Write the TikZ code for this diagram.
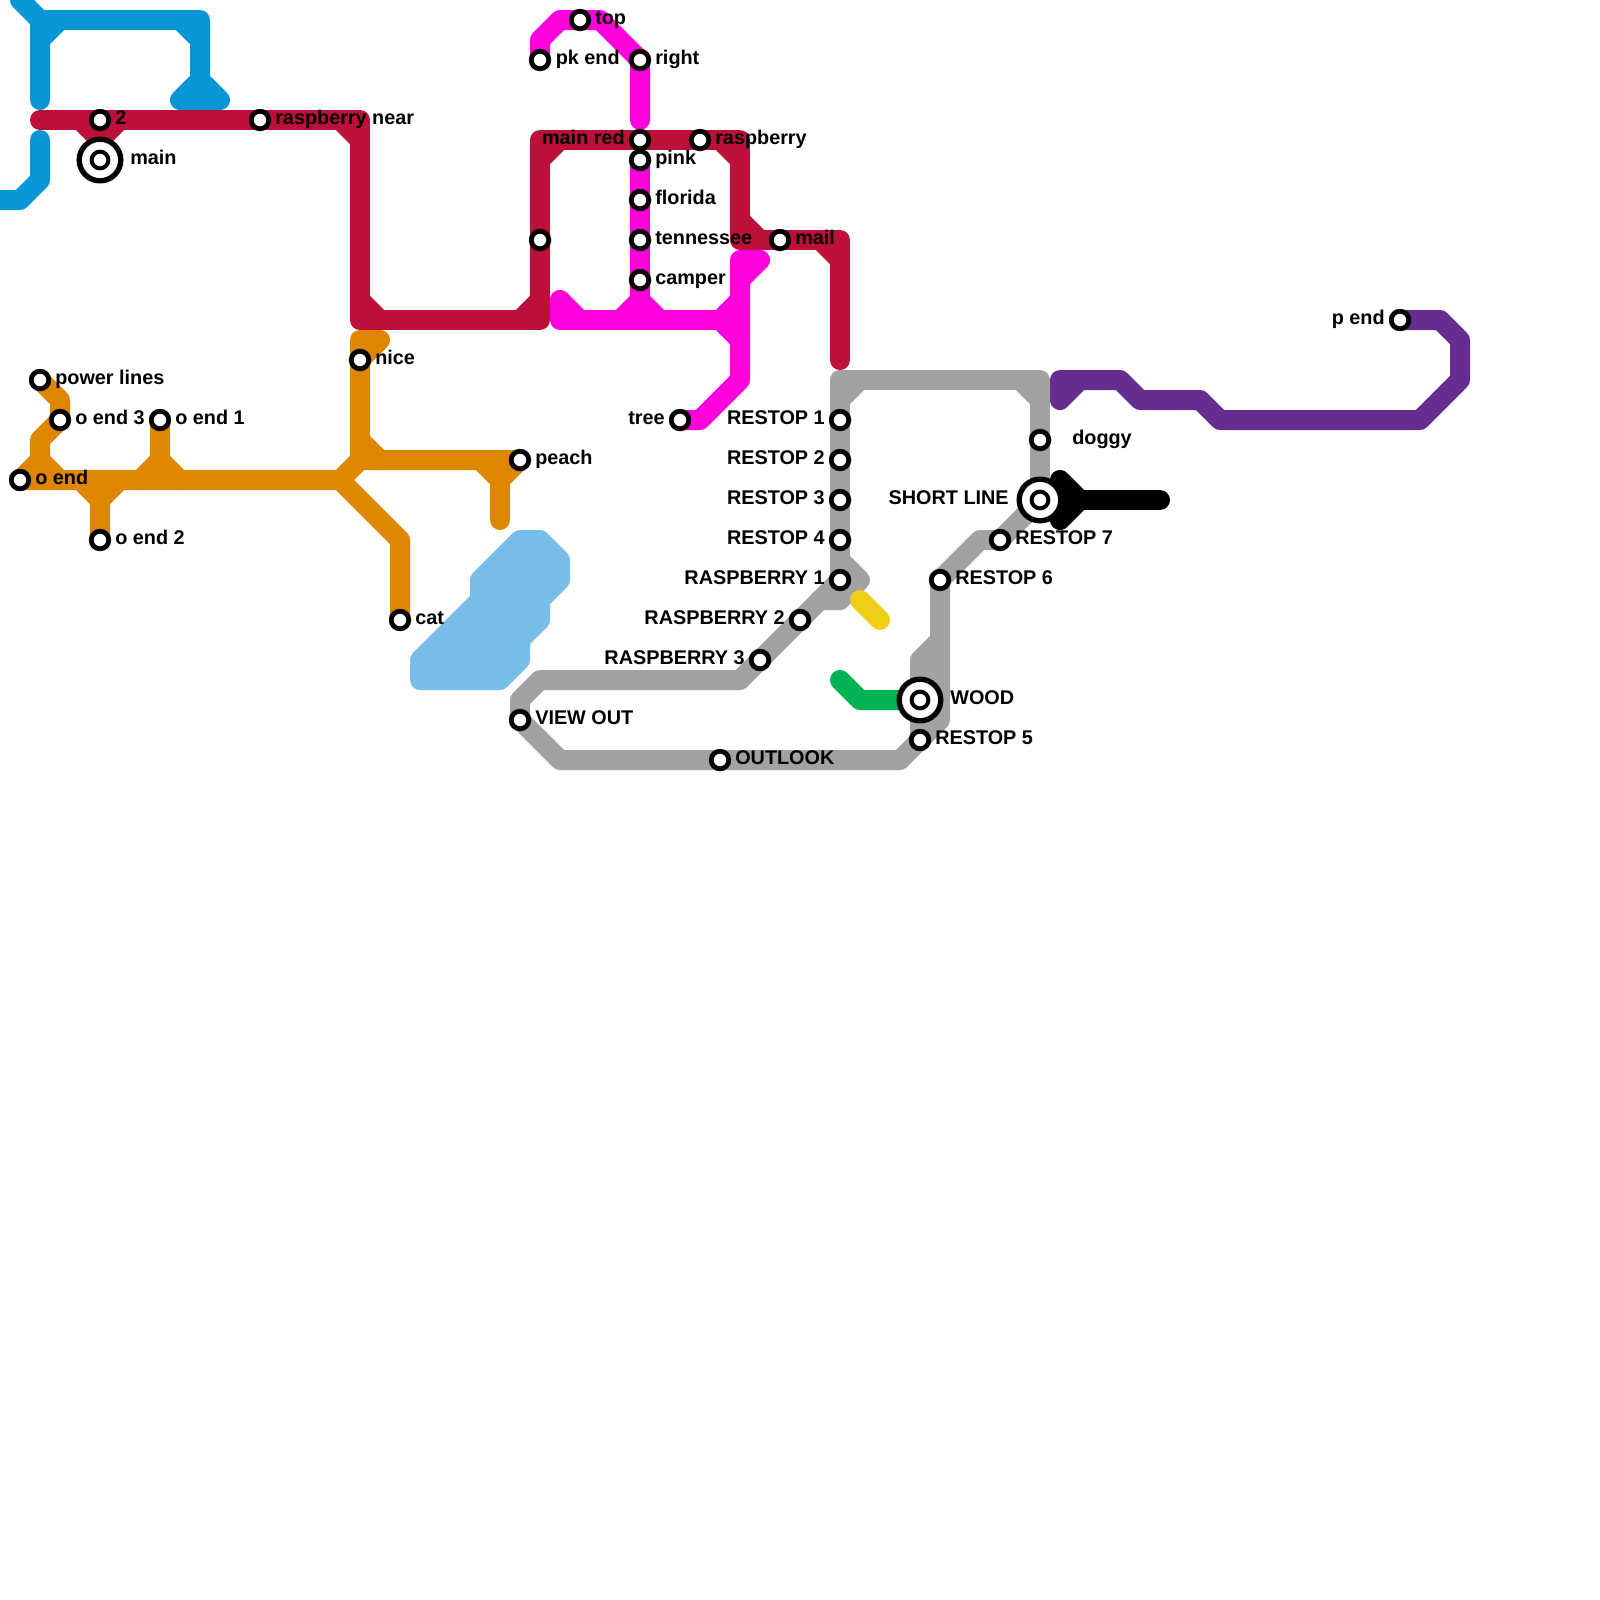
\documentclass[tikz,border=0pt]{standalone}
\usepackage{fontspec}
\setmainfont{Liberation Sans}
\usetikzlibrary{backgrounds}
\definecolor{mapblue}{HTML}{0896D7}
\definecolor{mapred}{HTML}{BD1038}
\definecolor{maporange}{HTML}{DF8600}
\definecolor{mappink}{HTML}{FF00DD}
\definecolor{mapgrey}{HTML}{A2A2A2}
\definecolor{maplake}{HTML}{79BDE9}
\definecolor{mapgreen}{HTML}{00B251}
\definecolor{mapyellow}{HTML}{F0CE15}
\definecolor{mappurple}{HTML}{662C90}
\begin{document}
\begin{tikzpicture}[
  x=0.5cm, y=-0.5cm,
  rail/.style={line width=0.5cm, line cap=round, line join=round},
  stop/.style={circle, draw=black, fill=white, line width=0.12cm, minimum size=0.44cm, inner sep=0pt},
  hub/.style={circle, draw=black, fill=white, line width=0.133cm, minimum size=1.04cm, inner sep=0pt},
  hubin/.style={circle, draw=black, fill=white, line width=0.1cm, minimum size=0.42cm, inner sep=0pt},
  lblr/.style={anchor=base west, inner sep=0pt, font=\fontsize{14.1}{16}\selectfont\bfseries},
  lbll/.style={anchor=base east, inner sep=0pt, font=\fontsize{14.1}{16}\selectfont\bfseries}
]
  \useasboundingbox (0,0) rectangle (80,80);

  % stations
  \node[stop] (two) at (5,6) {};
  \node[hub] (main) at (5,8) {};
  \node[hubin] (mainin) at (5,8) {};
  \node[stop] (rasnear) at (13,6) {};
  \node[stop] (powerlines) at (2,19) {};
  \node[stop] (oend3) at (3,21) {};
  \node[stop] (oend1) at (8,21) {};
  \node[stop] (oend) at (1,24) {};
  \node[stop] (oend2) at (5,27) {};
  \node[stop] (nice) at (18,18) {};
  \node[stop] (peach) at (26,23) {};
  \node[stop] (cat) at (20,31) {};
  \node[stop] (pkend) at (27,3) {};
  \node[stop] (top) at (29,1) {};
  \node[stop] (right) at (32,3) {};
  \node[stop] (mainred) at (32,7) {};
  \node[stop] (pink) at (32,8) {};
  \node[stop] (florida) at (32,10) {};
  \node[stop] (tennessee) at (32,12) {};
  \node[stop] (camper) at (32,14) {};
  \node[stop] (raspberry) at (35,7) {};
  \node[stop] (redmid) at (27,12) {};
  \node[stop] (mail) at (39,12) {};
  \node[stop] (tree) at (34,21) {};
  \node[stop] (restop1) at (42,21) {};
  \node[stop] (restop2) at (42,23) {};
  \node[stop] (restop3) at (42,25) {};
  \node[stop] (restop4) at (42,27) {};
  \node[stop] (rasp1) at (42,29) {};
  \node[stop] (rasp2) at (40,31) {};
  \node[stop] (rasp3) at (38,33) {};
  \node[stop] (viewout) at (26,36) {};
  \node[stop] (outlook) at (36,38) {};
  \node[stop] (restop5) at (46,37) {};
  \node[hub] (wood) at (46,35) {};
  \node[hubin] (woodin) at (46,35) {};
  \node[stop] (restop6) at (47,29) {};
  \node[stop] (restop7) at (50,27) {};
  \node[hub] (shortline) at (52,25) {};
  \node[hubin] (shortlinein) at (52,25) {};
  \node[stop] (doggy) at (52,22) {};
  \node[stop] (pend) at (70,16) {};

  % lines
  \begin{scope}[on background layer]
    \draw[rail, maplake, fill=maplake] (26,27) -- (27,27) -- (28,28) -- (28,29) -- (27,30) -- (27,31) -- (26,32) -- (26,33) -- (25,34) -- (21,34) -- (21,33) -- (24,30) -- (24,29) -- cycle;

    \draw[rail, mapblue] (1,0) -- (2,1) -- (2,5);
    \draw[rail, mapblue] (2,2) -- (3,1) -- (10,1) -- (10,4) -- (11,5) -- (9,5) -- (10,4);
    \draw[rail, mapblue] (2,1) -- (3,1);
    \draw[rail, mapblue] (9,1) -- (10,2);
    \draw[rail, mapblue] (2,7) -- (2,9) -- (1,10) -- (-1,10);

    \draw[rail, maporange] (powerlines.center) -- (3,20) -- (oend3.center) -- (2,22) -- (2,23) -- (3,24);
    \draw[rail, maporange] (oend.center) -- (2,23);
    \draw[rail, maporange] (oend.center) -- (17,24) -- (18,23) -- (peach.center);
    \draw[rail, maporange] (4,24) -- (5,25) -- (6,24);
    \draw[rail, maporange] (5,24) -- (oend2.center);
    \draw[rail, maporange] (7,24) -- (8,23) -- (9,24);
    \draw[rail, maporange] (oend1.center) -- (8,24);
    \draw[rail, maporange] (nice.center) -- (18,23);
    \draw[rail, maporange] (18,22) -- (19,23);
    \draw[rail, maporange] (17,24) -- (20,27) -- (cat.center);
    \draw[rail, maporange] (24,23) -- (25,24) -- (peach.center);
    \draw[rail, maporange] (25,24) -- (25,26);
    \draw[rail, maporange] (nice.center) -- (18,17) -- (19,17) -- (nice.center);

    \draw[rail, mappink] (pkend.center) -- (27,2) -- (28,1) -- (30,1) -- (right.center) -- (32,6);
    \draw[rail, mappink] (pink.center) -- (32,15);
    \draw[rail, mappink] (31,16) -- (32,15) -- (33,16);
    \draw[rail, mappink] (28,15) -- (28,16) -- (37,16);
    \draw[rail, mappink] (28,15) -- (29,16);
    \draw[rail, mappink] (36,16) -- (37,15);
    \draw[rail, mappink] (36,16) -- (37,17);
    \draw[rail, mappink] (38,13) -- (37,13) -- (37,19) -- (35,21) -- (tree.center);
    \draw[rail, mappink] (37,14) -- (38,13);

    \draw[rail, mapgrey] (rasp1.center) -- (42,19) -- (52,19) -- (shortline.center);
    \draw[rail, mapgrey] (42,20) -- (43,19);
    \draw[rail, mapgrey] (51,19) -- (52,20);
    \draw[rail, mapgrey] (42,28) -- (43,29) -- (42,30) -- (41,30);
    \draw[rail, mapgrey] (rasp1.center) -- (42,30);
    \draw[rail, mapgrey] (rasp1.center) -- (rasp3.center) -- (37,34) -- (27,34) -- (26,35) -- (viewout.center) -- (28,38) -- (45,38) -- (47,36) -- (restop6.center) -- (49,27) -- (restop7.center) -- (shortline.center);
    \draw[rail, mapgrey] (47,32) -- (46,33) -- (46,37);

    \draw[rail, mapred] (2,6) -- (18,6) -- (18,16) -- (27,16) -- (27,7) -- (37,7) -- (37,12) -- (42,12) -- (42,18);
    \draw[rail, mapred] (4,6) -- (5,7) -- (6,6);
    \draw[rail, mapred] (5,6) -- (main.center);
    \draw[rail, mapred] (17,6) -- (18,7);
    \draw[rail, mapred] (18,15) -- (19,16);
    \draw[rail, mapred] (26,16) -- (27,15);
    \draw[rail, mapred] (27,8) -- (28,7);
    \draw[rail, mapred] (36,7) -- (37,8);
    \draw[rail, mapred] (37,11) -- (38,12);
    \draw[rail, mapred] (41,12) -- (42,13);

    \draw[rail, mapgreen] (42,34) -- (43,35) -- (wood.center);
    \draw[rail, mapyellow] (43,30) -- (44,31);

    \draw[rail, black] (shortline.center) -- (58,25);
    \draw[rail, black] (53,24) -- (54,25) -- (53,26) -- cycle;

    \draw[rail, mappurple] (pend.center) -- (72,16) -- (73,17) -- (73,19) -- (71,21) -- (61,21) -- (60,20) -- (57,20) -- (56,19) -- (53,19) -- (53,20) -- (54,19);
  \end{scope}

  % labels
  \node[lblr] (ttwo) at (5.75,6.22) {2};
  \node[lblr] (tmain) at (6.5,8.22) {main};
  \node[lblr] (trasnear) at (13.75,6.22) {raspberry near};
  \node[lblr] (tpowerlines) at (2.75,19.22) {power lines};
  \node[lblr] (toend3) at (3.75,21.22) {o end 3};
  \node[lblr] (toend1) at (8.75,21.22) {o end 1};
  \node[lblr] (toend) at (1.75,24.22) {o end};
  \node[lblr] (toend2) at (5.75,27.22) {o end 2};
  \node[lblr] (tnice) at (18.75,18.22) {nice};
  \node[lblr] (tpeach) at (26.75,23.22) {peach};
  \node[lblr] (tcat) at (20.75,31.22) {cat};
  \node[lbll] (tpkend) at (31,3.22) {pk end};
  \node[lblr] (ttop) at (29.75,1.22) {top};
  \node[lblr] (tright) at (32.75,3.22) {right};
  \node[lbll] (tmainred) at (31.25,7.22) {main red};
  \node[lblr] (tpink) at (32.75,8.22) {pink};
  \node[lblr] (tflorida) at (32.75,10.22) {florida};
  \node[lblr] (ttennessee) at (32.75,12.22) {tennessee};
  \node[lblr] (tcamper) at (32.75,14.22) {camper};
  \node[lblr] (traspberry) at (35.75,7.22) {raspberry};
  \node[lblr] (tmail) at (39.75,12.22) {mail};
  \node[lbll] (ttree) at (33.25,21.22) {tree};
  \node[lbll] (trestop1) at (41.25,21.22) {RESTOP 1};
  \node[lbll] (trestop2) at (41.25,23.22) {RESTOP 2};
  \node[lbll] (trestop3) at (41.25,25.22) {RESTOP 3};
  \node[lbll] (trestop4) at (41.25,27.22) {RESTOP 4};
  \node[lbll] (trasp1) at (41.25,29.22) {RASPBERRY 1};
  \node[lbll] (trasp2) at (39.25,31.22) {RASPBERRY 2};
  \node[lbll] (trasp3) at (37.25,33.22) {RASPBERRY 3};
  \node[lblr] (tviewout) at (26.75,36.22) {VIEW OUT};
  \node[lblr] (toutlook) at (36.75,38.22) {OUTLOOK};
  \node[lblr] (trestop5) at (46.75,37.22) {RESTOP 5};
  \node[lblr] (twood) at (47.5,35.22) {WOOD};
  \node[lblr] (trestop6) at (47.75,29.22) {RESTOP 6};
  \node[lblr] (trestop7) at (50.75,27.22) {RESTOP 7};
  \node[lbll] (tshortline) at (50.45,25.22) {SHORT LINE};
  \node[lblr] (tdoggy) at (53.6,22.22) {doggy};
  \node[lbll] (tpend) at (69.25,16.22) {p end};
\end{tikzpicture}
\end{document}
